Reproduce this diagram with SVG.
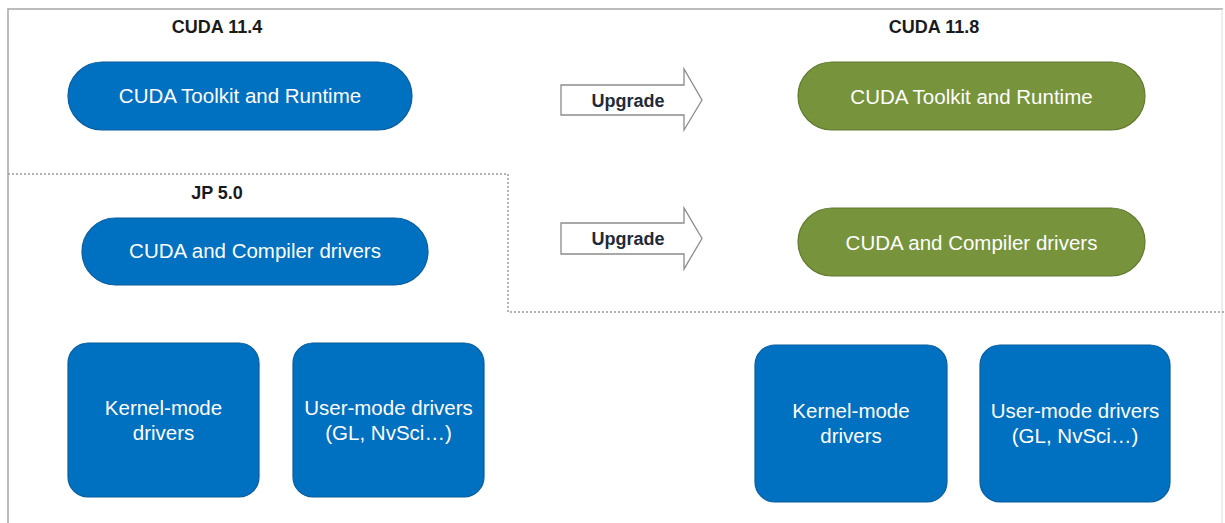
<svg xmlns="http://www.w3.org/2000/svg" width="1225" height="523" viewBox="0 0 1225 523">
<style>
.frame{fill:none;stroke:#a6a6a6;stroke-width:1.5}
.frame-faint{fill:none;stroke:#e2e2e2;stroke-width:1.2}
.dot{fill:none;stroke:#9a9a9a;stroke-width:1.5;stroke-dasharray:2 2}
.blue{fill:#0070c0;stroke:#0a5d9c;stroke-width:1.2}
.green{fill:#77933c;stroke:#627a30;stroke-width:1.2}
.t{font-family:"Liberation Sans",Arial,sans-serif;font-size:20.5px;fill:#ffffff;text-anchor:middle}
.h{font-family:"Liberation Sans",Arial,sans-serif;font-size:18px;font-weight:bold;fill:#1a1a1a;text-anchor:middle}
.arrow{fill:#ffffff;stroke:#8c8c8c;stroke-width:1.3}
.u{font-family:"Liberation Sans",Arial,sans-serif;font-size:18px;font-weight:bold;fill:#1f2a3a;text-anchor:middle}
</style>
<rect width="1225" height="523" fill="#ffffff"/>
<g id="frame">
<path class="frame" d="M8,523 V9 H1223"/>
<path class="frame-faint" d="M1222,9 V523"/>
<path class="dot" d="M8,174 H508 V312 H1225"/>
</g>
<g id="labels">
<text class="h" x="217" y="33">CUDA 11.4</text>
<text class="h" x="934" y="33">CUDA 11.8</text>
<text class="h" x="217" y="199">JP 5.0</text>
</g>
<g id="toolkit-old">
<rect class="blue" x="68" y="62" width="344" height="68" rx="34"/>
<text class="t" x="240" y="103">CUDA Toolkit and Runtime</text>
</g>
<g id="compiler-old">
<rect class="blue" x="82" y="218" width="346" height="67" rx="33.5"/>
<text class="t" x="255" y="258">CUDA and Compiler drivers</text>
</g>
<g id="kernel-old">
<rect class="blue" x="68" y="343" width="191" height="154" rx="20"/>
<text class="t" x="163.5" y="415">Kernel-mode</text>
<text class="t" x="163.5" y="440">drivers</text>
</g>
<g id="user-old">
<rect class="blue" x="293" y="343" width="191" height="154" rx="20"/>
<text class="t" x="388.5" y="415">User-mode drivers</text>
<text class="t" x="388.5" y="440">(GL, NvSci…)</text>
</g>
<g id="toolkit-new">
<rect class="green" x="798" y="62" width="347" height="68" rx="34"/>
<text class="t" x="971.5" y="104">CUDA Toolkit and Runtime</text>
</g>
<g id="compiler-new">
<rect class="green" x="798" y="208" width="347" height="68" rx="34"/>
<text class="t" x="971.5" y="250">CUDA and Compiler drivers</text>
</g>
<g id="kernel-new">
<rect class="blue" x="755" y="345" width="192" height="157" rx="20"/>
<text class="t" x="851" y="418">Kernel-mode</text>
<text class="t" x="851" y="443">drivers</text>
</g>
<g id="user-new">
<rect class="blue" x="980" y="345" width="190" height="157" rx="20"/>
<text class="t" x="1075" y="418">User-mode drivers</text>
<text class="t" x="1075" y="443">(GL, NvSci…)</text>
</g>
<g id="connectors">
<g id="upgrade-1">
<polygon class="arrow" points="561,85 684,85 684,69 702,100 684,130 684,115 561,115"/>
<text class="u" x="628" y="107">Upgrade</text>
</g>
<g id="upgrade-2">
<polygon class="arrow" points="561,223 684,223 684,208 702,238.5 684,269 684,254 561,254"/>
<text class="u" x="628" y="245">Upgrade</text>
</g>
</g>
</svg>
